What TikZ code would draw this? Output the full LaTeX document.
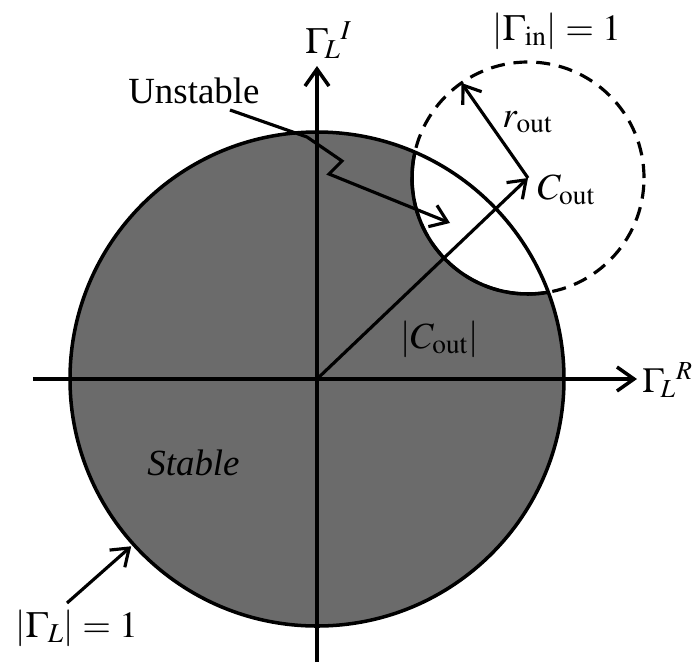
\documentclass[tikz,border=0pt]{standalone}
\usepackage{mathptmx}
\usepackage{fontspec}
\setmainfont{Liberation Serif}
\usetikzlibrary{arrows.meta,positioning,calc}

\begin{document}
\begin{tikzpicture}[font=\fontsize{21}{25}\selectfont,
    axisline/.style={line width=2pt, -{Straight Barb[length=3.4mm,width=4.8mm,line width=2pt]}},
    pointer/.style={line width=1.8pt, line join=miter, -{Straight Barb[length=3.2mm,width=4.6mm,line width=1.8pt]}},
    lbl/.style={anchor=base west, inner sep=0pt}]
    \def\R{4.94}
    \def\rout{2.32}
    \useasboundingbox (-6.34,-5.66) rectangle (7.52,7.58);
    \coordinate (O) at (0,0);
    \coordinate (Cout) at (4.22,4.02);
    % stable region and unstable disc
    \fill[black!58] (O) circle (\R);
    \fill[white] (Cout) circle (\rout);
    \draw[line width=2pt] (O) circle (\R);
    \draw[line width=1.8pt, dash pattern=on 8pt off 5pt] (Cout) circle (\rout);
    \begin{scope}
        \clip (O) circle (\R);
        \draw[line width=2pt] (Cout) circle (\rout);
    \end{scope}
    % axes
    \coordinate (xl) at (-5.68,0);
    \coordinate (xr) at (6.4,0);
    \coordinate (yb) at (0,-5.66);
    \coordinate (yt) at (0,6.26);
    \draw[axisline] (xl) -- (xr);
    \draw[axisline] (yb) -- (yt);
    \node[lbl, font=\fontsize{20}{24}\selectfont] (gR) at (6.5,-0.26) {$\Gamma_{\!L}{}^{R}$};
    \node[lbl] (gI) at (-0.24,6.52) {$\Gamma_{\!L}{}^{I}$};
    % labels
    \node[lbl] (gin) at (3.5,6.78) {$|\Gamma_{\rm in}| = 1$};
    \node[lbl] (rlab) at (3.7,5.04) {$r_{\rm out}$};
    \node[lbl] (clab) at (4.4,3.6) {$C_{\rm out}$};
    \node[lbl] (unst) at (-3.78,5.52) {Unstable};
    \node[lbl] (stab) at (-3.4,-1.92) {\textit{Stable}};
    \node[lbl] (cabs) at (1.66,0.62) {$|C_{\rm out}|$};
    \node[lbl] (gL) at (-6.04,-5.16) {$|\Gamma_L| = 1$};
    % arrows
    \coordinate (rim) at ($(Cout)+(125:\rout)$);
    \draw[pointer] (O) -- (Cout);
    \draw[pointer] (Cout) -- (rim);
    \coordinate (u0) at (-1.74,5.38);
    \coordinate (u1) at (-0.2,4.84);
    \coordinate (u2) at (0.5,4.36);
    \coordinate (u3) at (0.24,4.1);
    \coordinate (u4) at (2.66,3.12);
    \draw[pointer] (u0) -- (u1) -- (u2) -- (u3) -- (u4);
    \coordinate (gLtail) at (-5.0,-4.48);
    \draw[pointer] (gLtail) -- (222:5.0);
\end{tikzpicture}
\end{document}
